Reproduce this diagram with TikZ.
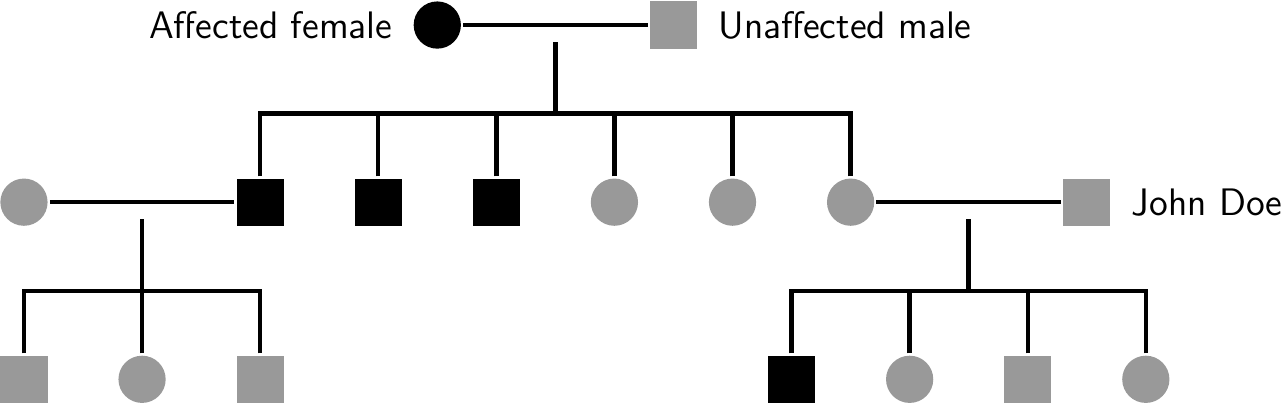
\documentclass[tikz,border=0pt]{standalone}
\usepackage{tikz}
\usetikzlibrary{arrows,shapes}
\definecolor{unaffgray}{RGB}{153,153,153}

\begin{document}
\begin{tikzpicture}[-,line width=1.4pt,x=1.3cm,y=1.3cm,node distance=1.3cm,font=\sffamily\large,label distance=2pt]
 \tikzstyle{male}=[rectangle,minimum size=0.52cm,inner sep=0pt,draw=none]
 \tikzstyle{female}=[circle,minimum size=0.52cm,inner sep=0pt,draw=none]
 \tikzstyle{affected}=[fill=black]
 \tikzstyle{unaffected}=[fill=unaffgray]
 \useasboundingbox (-0.203,-1.712) rectangle (10.704,1.712);

   % grandparents
   \node[female,affected,label=left:Affected female] (gm) at (3.5,1.5) {};
   \node[male,unaffected,label=right:Unaffected male] (gf) [right of=gm, node distance=2.6cm] {};

   % children
   \node[female,unaffected] (w1) at (0,0) {};
   \node[male,affected] (s1) [right of=w1, node distance=2.6cm] {};
   \node[male,affected] (s2) [right of=s1] {};
   \node[male,affected] (s3) [right of=s2] {};
   \node[female,unaffected] (d1) [right of=s3] {};
   \node[female,unaffected] (d2) [right of=d1] {};
   \node[female,unaffected] (d3) [right of=d2] {};
   \node[male,unaffected,label=right:John Doe] (jd) [right of=d3, node distance=2.6cm] {};

   % grandchildren
   \node[male,unaffected] (gc1) [below of=w1, node distance=1.95cm] {};
   \node[female,unaffected] (gc2) [right of=gc1] {};
   \node[male,unaffected] (gc3) [right of=gc2] {};
   \node[male,affected] (gc4) at (6.5,-1.5) {};
   \node[female,unaffected] (gc5) [right of=gc4] {};
   \node[male,unaffected] (gc6) [right of=gc5] {};
   \node[female,unaffected] (gc7) [right of=gc6] {};

   % marriages
   \draw (gm) -- coordinate[pos=.5] (m0) (gf);
   \draw (w1) -- coordinate[pos=.5] (m1) (s1);
   \draw (d3) -- coordinate[pos=.5] (m2) (jd);

   \coordinate (sib0) at (4.5,0.75);
   \coordinate (sib1) at (1,-0.75);
   \coordinate (sib2) at (8,-0.75);

   \draw ([yshift=-0.19cm]m0) -- (sib0);
   \draw ([yshift=-0.19cm]m1) -- (sib1);
   \draw ([yshift=-0.19cm]m2) -- (sib2);

   % descent lines
   \foreach \c in {s1,s2,s3,d1,d2,d3}
     \draw (\c) |- (sib0);
   \foreach \c in {gc1,gc2,gc3}
     \draw (\c) |- (sib1);
   \foreach \c in {gc4,gc5,gc6,gc7}
     \draw (\c) |- (sib2);

\end{tikzpicture}
\end{document}
